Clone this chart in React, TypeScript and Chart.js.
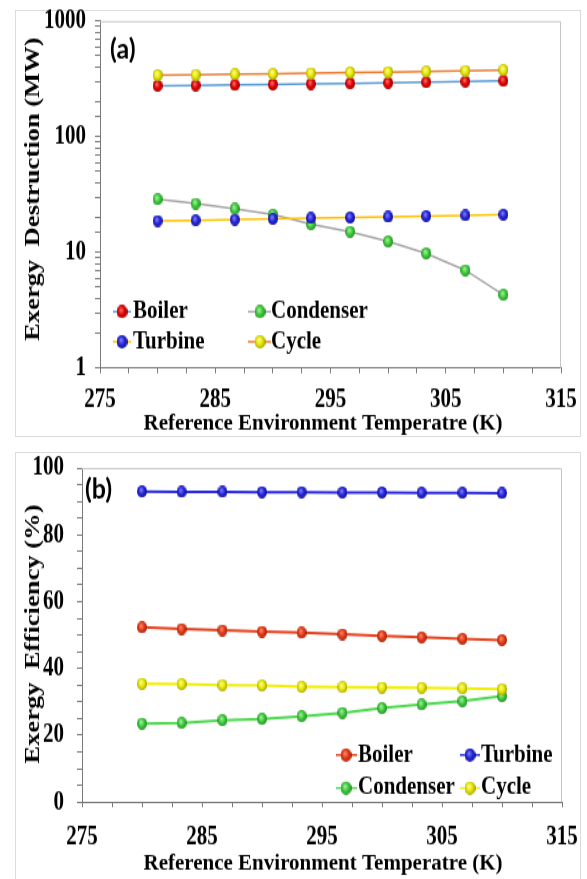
import React, { useEffect, useRef } from 'react';
import { Chart, registerables } from 'chart.js';

Chart.register(...registerables);

// ---------------- data ----------------
const temperatures = [280, 283.3, 286.7, 290, 293.3, 296.7, 300, 303.3, 306.7, 310];

// (a) exergy destruction, MW
const boilerDestruction = [276, 278, 280, 283, 286, 289, 292, 296, 300, 304];
const condenserDestruction = [28.8, 26.4, 23.8, 21.2, 17.5, 15.1, 12.4, 9.8, 7.0, 4.3];
const turbineDestruction = [18.7, 18.9, 19.2, 19.5, 19.8, 20.0, 20.3, 20.6, 20.9, 21.2];
const cycleDestruction = [340, 343, 347, 350, 354, 358, 362, 366, 371, 377];

// (b) exergy efficiency, %
const boilerEfficiency = [52.3, 51.8, 51.4, 51.0, 50.7, 50.2, 49.7, 49.3, 48.9, 48.5];
const turbineEfficiency = [93.0, 92.9, 92.9, 92.8, 92.8, 92.7, 92.7, 92.6, 92.6, 92.5];
const condenserEfficiency = [23.5, 23.7, 24.5, 24.9, 25.7, 26.7, 28.1, 29.2, 30.2, 31.7];
const cycleEfficiency = [35.4, 35.3, 35.0, 34.9, 34.5, 34.4, 34.3, 34.2, 34.0, 33.8];

const xTickLabels = ['275', '285', '295', '305', '315'];
const destructionTickLabels = ['1', '10', '100', '1000'];
const efficiencyTickLabels = ['0', '20', '40', '60', '80', '100'];

const xTitle = 'Reference Environment Temperatre (K)';
const destructionTitle = 'Exergy  Destruction (MW)';
const efficiencyTitle = 'Exergy  Efficiency (%)';

// ---------------- styling ----------------
const S = 1.33; // vertical stretch of the whole figure
const SERIF = '"Liberation Serif", "Times New Roman", serif';
const AXIS = '#7a7a7a';

function makeSphere(base: string, light: string, dark: string, w: number, h: number) {
  const c = document.createElement('canvas');
  c.width = w;
  c.height = h;
  const g = c.getContext('2d') as CanvasRenderingContext2D;
  const grad = g.createRadialGradient(w * 0.4, h * 0.35, 0, w * 0.5, h * 0.5, Math.max(w, h) * 0.58);
  grad.addColorStop(0, light);
  grad.addColorStop(0.5, base);
  grad.addColorStop(1, dark);
  g.fillStyle = grad;
  g.beginPath();
  g.ellipse(w / 2, h / 2, w / 2, h / 2, 0, 0, Math.PI * 2);
  g.fill();
  return c;
}

type SphereSpec = [string, string, string];
const RED_A: SphereSpec = ['#e00000', '#ff7a7a', '#860000'];
const RED_B: SphereSpec = ['#e23a18', '#ff9270', '#8a1a06'];
const GREEN: SphereSpec = ['#3cc83c', '#b0f5a8', '#1a781a'];
const BLUE: SphereSpec = ['#2424d8', '#8a8aff', '#10107a'];
const YELLOW: SphereSpec = ['#e6e600', '#ffffa0', '#8a8600'];

interface Series {
  name: string;
  values: number[];
  line: string;
  lineWidth: number;
  sphere: SphereSpec;
  order: number;
}

interface LegendItem {
  name: string;
  line: string;
  sphere: SphereSpec;
  x0: number;
  x1: number;
  mx: number;
  tx: number;
  y: number;
}

interface Panel {
  tag: string;
  tagX: number;
  tagY: number;
  height: number;
  top: number;
  right: number;
  yWidth: number;
  xHeight: number;
  xPad: number;
  yPad: number;
  xTitleX: number;
  xTitleY: number;
  yTitle: string;
  yTitleX: number;
  yTitleY: number;
  series: Series[];
  legend: LegendItem[];
  y: any;
}

const WIDTH = 566;

function drawText(
  ctx: CanvasRenderingContext2D,
  text: string,
  x: number,
  y: number,
  font: string,
  k: number,
  align: CanvasTextAlign,
  baseline: CanvasTextBaseline
) {
  ctx.save();
  ctx.translate(x, y);
  ctx.scale(1, k);
  ctx.font = font;
  ctx.fillStyle = '#000';
  ctx.textAlign = align;
  ctx.textBaseline = baseline;
  ctx.fillText(text, 0, 0);
  ctx.restore();
}

function decor(panel: Panel) {
  return {
    id: 'decor',
    afterDraw(chart: any) {
      const ctx: CanvasRenderingContext2D = chart.ctx;
      const a = chart.chartArea;
      ctx.save();
      // plot area top/right border
      ctx.strokeStyle = '#c6c6c6';
      ctx.lineWidth = 1;
      ctx.beginPath();
      ctx.moveTo(a.left, a.top + 0.5);
      ctx.lineTo(a.right - 0.5, a.top + 0.5);
      ctx.lineTo(a.right - 0.5, a.bottom);
      ctx.stroke();
      // panel tag
      drawText(ctx, panel.tag, panel.tagX, panel.tagY, 'bold 25px Lato, "Open Sans", sans-serif', 0.82, 'left', 'top');
      // x title
      drawText(ctx, xTitle, panel.xTitleX, panel.xTitleY, `bold 21px ${SERIF}`, 0.8, 'center', 'alphabetic');
      // y title
      ctx.save();
      ctx.translate(panel.yTitleX, panel.yTitleY);
      ctx.rotate(-Math.PI / 2);
      ctx.font = `bold 20px ${SERIF}`;
      ctx.fillStyle = '#000';
      ctx.textAlign = 'center';
      ctx.textBaseline = 'middle';
      ctx.fillText(panel.yTitle, 0, 0);
      ctx.restore();
      // legend
      panel.legend.forEach((it) => {
        ctx.strokeStyle = it.line;
        ctx.lineWidth = 1.5;
        ctx.beginPath();
        ctx.moveTo(it.x0, it.y);
        ctx.lineTo(it.x1, it.y);
        ctx.stroke();
        const img = makeSphere(it.sphere[0], it.sphere[1], it.sphere[2], 11, 10);
        ctx.drawImage(img, it.mx - 5.5, it.y - 5, 11, 10);
        drawText(ctx, it.name, it.tx, it.y, `bold 21px ${SERIF}`, 0.86, 'left', 'middle');
      });
      ctx.restore();
    },
  };
}

function buildChart(canvas: HTMLCanvasElement, panel: Panel) {
  const pts = (vals: number[]) => temperatures.map((t, i) => ({ x: t, y: vals[i] }));
  const tickFont = { family: SERIF, size: 21, weight: 'bold' as const };
  return new Chart(canvas, {
    type: 'line',
    data: {
      datasets: panel.series.map((s) => ({
        label: s.name,
        data: pts(s.values),
        borderColor: s.line,
        borderWidth: s.lineWidth,
        pointStyle: makeSphere(s.sphere[0], s.sphere[1], s.sphere[2], 10, 9) as any,
        pointRadius: 5,
        pointHoverRadius: 5,
        fill: false,
        tension: 0,
        order: s.order,
      })),
    },
    options: {
      responsive: false,
      animation: false,
      events: [],
      layout: { padding: { top: panel.top, right: panel.right, bottom: 0, left: 0 } },
      plugins: { legend: { display: false }, tooltip: { enabled: false } },
      scales: {
        x: {
          type: 'linear',
          min: 275,
          max: 315,
          ticks: {
            stepSize: 2.5,
            autoSkip: false,
            maxRotation: 0,
            minRotation: 0,
            padding: panel.xPad,
            color: '#000',
            font: tickFont,
            callback: (v: any) => (xTickLabels.includes(String(v)) ? String(v) : ''),
          },
          grid: { drawOnChartArea: false, drawTicks: true, tickLength: 4, color: AXIS },
          border: { display: true, color: AXIS, width: 1 },
          afterFit: (sc: any) => {
            sc.height = panel.xHeight;
            sc.paddingLeft = 0;
            sc.paddingRight = 0;
          },
        },
        y: {
          ...panel.y,
          ticks: {
            ...(panel.y.ticks || {}),
            autoSkip: false,
            padding: panel.yPad,
            color: '#000',
            font: tickFont,
          },
          grid: { drawOnChartArea: false, drawTicks: true, tickLength: 5, color: AXIS },
          border: { display: true, color: AXIS, width: 1 },
          afterFit: (sc: any) => {
            sc.width = panel.yWidth;
            sc.paddingTop = 0;
            sc.paddingBottom = 0;
          },
        },
      },
    } as any,
    plugins: [decor(panel)],
  });
}

const panelA: Panel = {
  tag: '(a)',
  tagX: 95,
  tagY: 27,
  height: 329,
  top: 21 / S,
  right: 20,
  yWidth: 85,
  xHeight: 329 - 368 / S,
  xPad: 7,
  yPad: 9,
  xTitleX: 308,
  xTitleY: 430 / S,
  yTitle: destructionTitle,
  yTitleX: 19,
  yTitleY: 189 / S,
  series: [
    { name: 'Boiler', values: boilerDestruction, line: '#5b9bd5', lineWidth: 1.5, sphere: RED_A, order: 3 },
    { name: 'Condenser', values: condenserDestruction, line: '#a5a5a5', lineWidth: 1.5, sphere: GREEN, order: 2 },
    { name: 'Turbine', values: turbineDestruction, line: '#ffc000', lineWidth: 1.5, sphere: BLUE, order: 1 },
    { name: 'Cycle', values: cycleDestruction, line: '#ed7d31', lineWidth: 1.5, sphere: YELLOW, order: 0 },
  ],
  legend: [
    { name: 'Boiler', line: '#5b9bd5', sphere: RED_A, x0: 98, x1: 116, mx: 107, tx: 118, y: 311.7 / S },
    { name: 'Condenser', line: '#a5a5a5', sphere: GREEN, x0: 233, x1: 256, mx: 245, tx: 256, y: 311.7 / S },
    { name: 'Turbine', line: '#ffc000', sphere: BLUE, x0: 98, x1: 116, mx: 107, tx: 118, y: 341.7 / S },
    { name: 'Cycle', line: '#ed7d31', sphere: YELLOW, x0: 233, x1: 256, mx: 245, tx: 256, y: 341.7 / S },
  ],
  y: {
    type: 'logarithmic',
    min: 1,
    max: 1000,
    ticks: {
      callback: (v: any) => (destructionTickLabels.includes(String(v)) ? String(v) : ''),
    },
  },
};

const OB = 440; // screen top of panel (b) canvas
const panelB: Panel = {
  tag: '(b)',
  tagX: 70,
  tagY: (476 - OB) / S,
  height: 330,
  top: (468 - OB) / S,
  right: 19,
  yWidth: 67,
  xHeight: 330 - (802 - OB) / S,
  xPad: 10,
  yPad: 13,
  xTitleX: 308,
  xTitleY: (870 - OB) / S,
  yTitle: efficiencyTitle,
  yTitleX: 19,
  yTitleY: (634 - OB) / S,
  series: [
    { name: 'Boiler', values: boilerEfficiency, line: '#e4401c', lineWidth: 2, sphere: RED_B, order: 1 },
    { name: 'Turbine', values: turbineEfficiency, line: '#2b2bdc', lineWidth: 2, sphere: BLUE, order: 0 },
    { name: 'Condenser', values: condenserEfficiency, line: '#4cd84c', lineWidth: 2, sphere: GREEN, order: 3 },
    { name: 'Cycle', values: cycleEfficiency, line: '#f0ee00', lineWidth: 2, sphere: YELLOW, order: 2 },
  ],
  legend: [
    { name: 'Boiler', line: '#e4401c', sphere: RED_B, x0: 321, x1: 342, mx: 331, tx: 343, y: (755 - OB) / S },
    { name: 'Turbine', line: '#2b2bdc', sphere: BLUE, x0: 445, x1: 465, mx: 455, tx: 466, y: (755 - OB) / S },
    { name: 'Condenser', line: '#4cd84c', sphere: GREEN, x0: 321, x1: 342, mx: 331, tx: 343, y: (788 - OB) / S },
    { name: 'Cycle', line: '#f0ee00', sphere: YELLOW, x0: 445, x1: 465, mx: 455, tx: 466, y: (788 - OB) / S },
  ],
  y: {
    type: 'linear',
    min: 0,
    max: 100,
    ticks: {
      stepSize: 5,
      callback: (v: any) => (efficiencyTickLabels.includes(String(v)) ? String(v) : ''),
    },
  },
};

function PanelChart({ panel, top }: { panel: Panel; top: number }) {
  const ref = useRef<HTMLCanvasElement>(null);
  useEffect(() => {
    if (!ref.current) return;
    const chart = buildChart(ref.current, panel);
    return () => chart.destroy();
  }, [panel]);
  return (
    <div
      style={{
        position: 'absolute',
        left: 15,
        top,
        width: WIDTH,
        height: panel.height,
        transform: `scaleY(${S})`,
        transformOrigin: '0 0',
      }}
    >
      <canvas
        ref={ref}
        width={WIDTH}
        height={panel.height}
        style={{ display: 'block', width: WIDTH, height: panel.height }}
      />
    </div>
  );
}

export default function App() {
  return (
    <div style={{ position: 'absolute', left: 0, top: 0, width: 587, height: 879, overflow: 'hidden', background: '#fff' }}>
      <div style={{ position: 'absolute', left: 15, top: 10, width: WIDTH, height: 427, border: '1px solid #dcdcdc', boxSizing: 'border-box' }} />
      <div style={{ position: 'absolute', left: 15, top: 452, width: WIDTH, height: 440, border: '1px solid #dcdcdc', boxSizing: 'border-box' }} />
      <PanelChart panel={panelA} top={0} />
      <PanelChart panel={panelB} top={OB} />
    </div>
  );
}
